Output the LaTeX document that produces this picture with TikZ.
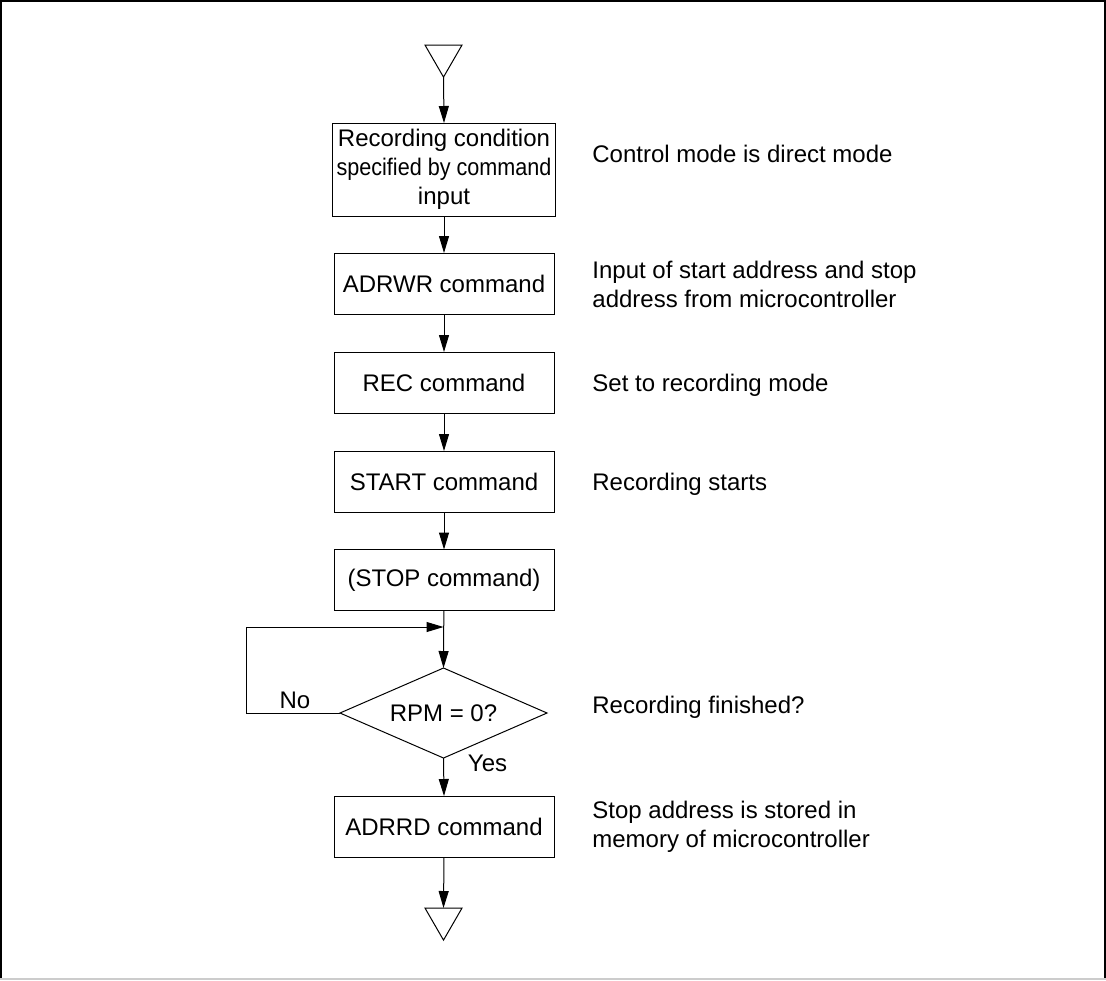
\documentclass[tikz,border=0pt]{standalone}
\usepackage{fontspec}
\setmainfont{Liberation Sans}
\usetikzlibrary{arrows.meta,shapes.geometric}

\begin{document}
\begin{tikzpicture}[x=0.5pt,y=-0.5pt,>={Triangle[length=8.5pt,width=5pt]},
    txt/.style={font=\fontsize{12}{14.5}\selectfont},
    box/.style={txt,draw,line width=0.5pt,minimum width=110pt,minimum height=30.5pt,inner sep=2pt,outer sep=0pt,align=center},
    test/.style={txt,draw,line width=0.5pt,diamond,aspect=2.3,minimum width=103.5pt,minimum height=45pt,inner sep=0pt,outer sep=0pt},
    term/.style={draw,line width=0.5pt,regular polygon,regular polygon sides=3,shape border rotate=180,minimum size=21.4pt,inner sep=0pt,outer sep=0pt},
    note/.style={txt,align=left,inner sep=0pt},
    flow/.style={->,line width=0.5pt}]
    \useasboundingbox (0,0) rectangle (1106,980);
    % frame
    \draw[line width=1pt] (1,979)--(1,1)--(1105,1)--(1105,979);
    \draw[black!20,line width=1pt] (0,979)--(1106,979);
    % flow
    \node[term] (start) at (443.5,55.7) {};
    \node[box,minimum height=46.5pt] (cond) at (444,169.5) {Recording condition\\\scalebox{0.9}[1]{specified by command}\\input};
    \node[box] (adrwr) at (444,283.5) {ADRWR command};
    \node[box] (rec) at (444,382.5) {REC command};
    \node[box] (startcmd) at (444,481.5) {START command};
    \node[box] (stop) at (444,580) {(STOP command)};
    \node[test] (rpm) at (443.5,713) {RPM = 0?};
    \node[box] (adrrd) at (444,826.5) {ADRRD command};
    \node[term] (end) at (443.5,918.7) {};
    \coordinate (join) at (443.5,627);
    \coordinate (back) at (246,627);
    \draw[flow] (start.south)--(cond.north);
    \draw[flow] (cond)--(adrwr);
    \draw[flow] (adrwr)--(rec);
    \draw[flow] (rec)--(startcmd);
    \draw[flow] (startcmd)--(stop);
    \draw[flow] (stop)--(rpm.north);
    \draw[flow] (rpm.west)-|(back)--(join);
    \draw[flow] (rpm.south)--(adrrd.north);
    \draw[flow] (adrrd.south)--(end.north);
    \node[txt] (no) at (295,700) {No};
    \node[txt] (yes) at (487.5,763) {Yes};
    % notes
    \node[note,anchor=base west] (n1) at (592,162) {Control mode is direct mode};
    \node[note,anchor=north west] (n2) at (592,260.5) {Input of start address and stop\\address from microcontroller};
    \node[note,anchor=base west] (n3) at (592,391) {Set to recording mode};
    \node[note,anchor=base west] (n4) at (592,490.7) {Recording starts};
    \node[note,anchor=base west] (n5) at (592,713) {Recording finished?};
    \node[note,anchor=north west] (n6) at (592,800.5) {Stop address is stored in\\memory of microcontroller};
\end{tikzpicture}
\end{document}
